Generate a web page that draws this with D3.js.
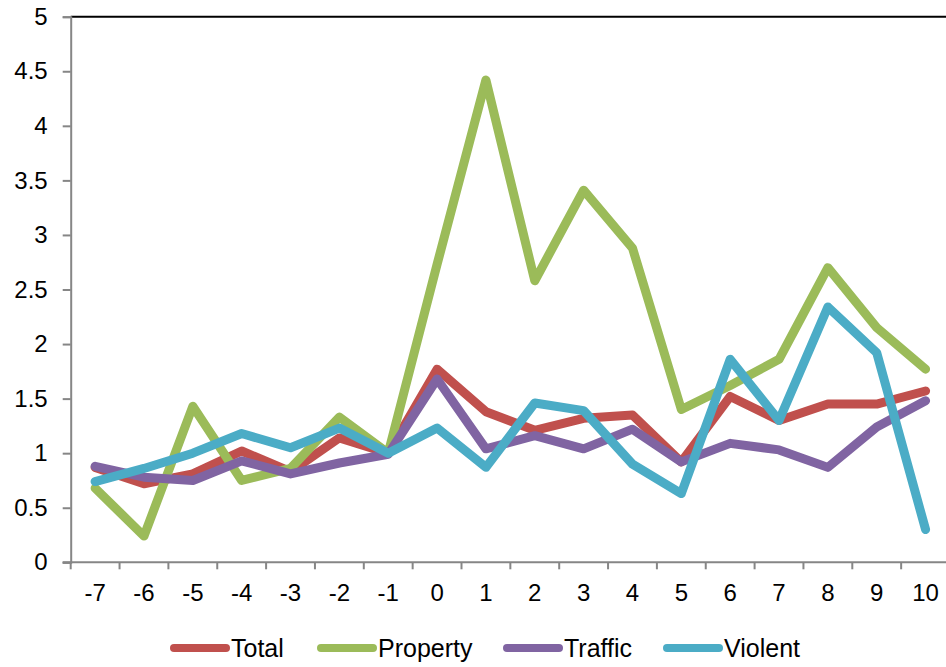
<!DOCTYPE html>
<html>
<head>
<meta charset="utf-8">
<script src="https://cdn.jsdelivr.net/npm/d3@7"></script>
<style>
  html, body { margin: 0; padding: 0; background: #fff; }
  svg { display: block; font-family: "Liberation Sans", Arial, sans-serif; }
</style>
</head>
<body>
<svg id="chart" width="946" height="667"></svg>
<script>
// Relative period around the event
const periods = [-7, -6, -5, -4, -3, -2, -1, 0, 1, 2, 3, 4, 5, 6, 7, 8, 9, 10];

// Ratio series by offence type
const total    = [0.87, 0.72, 0.81, 1.02, 0.83, 1.14, 1.00, 1.77, 1.38, 1.21, 1.32, 1.35, 0.92, 1.52, 1.30, 1.45, 1.45, 1.57];
const property = [0.68, 0.24, 1.43, 0.75, 0.86, 1.33, 1.00, 2.73, 4.42, 2.58, 3.41, 2.88, 1.40, 1.62, 1.86, 2.70, 2.15, 1.77];
const traffic  = [0.88, 0.78, 0.75, 0.93, 0.81, 0.91, 0.99, 1.68, 1.04, 1.16, 1.04, 1.22, 0.92, 1.09, 1.03, 0.87, 1.24, 1.48];
const violent  = [0.74, 0.86, 1.00, 1.18, 1.05, 1.23, 1.00, 1.23, 0.87, 1.46, 1.39, 0.90, 0.63, 1.86, 1.30, 2.34, 1.92, 0.30];

const seriesNames  = ["Total", "Property", "Traffic", "Violent"];
const seriesColors = ["#C0504D", "#9BBB59", "#8064A2", "#4BACC6"];
const yTicks = [0, 0.5, 1, 1.5, 2, 2.5, 3, 3.5, 4, 4.5, 5];

const series = [total, property, traffic, violent].map((values, i) => ({
  name: seriesNames[i], color: seriesColors[i], values
}));

const svg = d3.select("#chart");

const plot = { left: 70.7, right: 950, top: 16.7, bottom: 562.3 };

const x = d3.scaleBand().domain(periods).range([plot.left, plot.right]).padding(0);
const y = d3.scaleLinear().domain([0, 5]).range([plot.bottom, plot.top]);

const axisColor = "#868686";

// Top border of the plot area
svg.append("line")
  .attr("x1", plot.left).attr("x2", plot.right)
  .attr("y1", y(5)).attr("y2", y(5))
  .attr("stroke", "#000").attr("stroke-width", 2);

// Y axis
const yAxis = svg.append("g")
  .attr("transform", `translate(${plot.left},0)`)
  .call(d3.axisLeft(y).tickValues(yTicks).tickSize(8).tickPadding(15).tickFormat(d3.format("")));
yAxis.select(".domain").attr("stroke", axisColor).attr("stroke-width", 2);
yAxis.selectAll(".tick line").attr("stroke", axisColor).attr("stroke-width", 2);
yAxis.selectAll(".tick text")
  .attr("fill", "#000").attr("font-size", 24)
  .attr("font-family", "'Liberation Sans', Arial, sans-serif");

// X axis: ticks sit on the category boundaries
const xAxis = svg.append("g")
  .attr("transform", `translate(0,${plot.bottom})`);
xAxis.append("line")
  .attr("x1", plot.left - 8).attr("x2", plot.right)
  .attr("y1", 0).attr("y2", 0)
  .attr("stroke", axisColor).attr("stroke-width", 2);
xAxis.selectAll("line.tick")
  .data(periods)
  .join("line")
  .attr("class", "tick")
  .attr("x1", d => x(d)).attr("x2", d => x(d))
  .attr("y1", 0).attr("y2", 7)
  .attr("stroke", axisColor).attr("stroke-width", 2);
xAxis.selectAll("text")
  .data(periods)
  .join("text")
  .attr("x", d => x(d) + x.bandwidth() / 2)
  .attr("y", 39)
  .attr("text-anchor", "middle")
  .attr("font-size", 24)
  .attr("fill", "#000")
  .text(d => d);

// Series lines
const line = d3.line()
  .x((d, i) => x(periods[i]) + x.bandwidth() / 2)
  .y(d => y(d));

svg.append("g")
  .selectAll("path")
  .data(series)
  .join("path")
  .attr("d", d => line(d.values))
  .attr("fill", "none")
  .attr("stroke", d => d.color)
  .attr("stroke-width", 9)
  .attr("stroke-linejoin", "round")
  .attr("stroke-linecap", "round");

// Legend
const legendX = [174, 321, 507, 667];
const legend = svg.append("g");
const items = legend.selectAll("g")
  .data(series)
  .join("g")
  .attr("transform", (d, i) => `translate(${legendX[i]},648)`);
items.append("line")
  .attr("x1", 0).attr("x2", 52)
  .attr("y1", 0).attr("y2", 0)
  .attr("stroke", d => d.color)
  .attr("stroke-width", 8)
  .attr("stroke-linecap", "round");
items.append("text")
  .attr("x", 57)
  .attr("y", 9)
  .attr("font-size", 25)
  .attr("fill", "#000")
  .text(d => d.name);
</script>
</body>
</html>
